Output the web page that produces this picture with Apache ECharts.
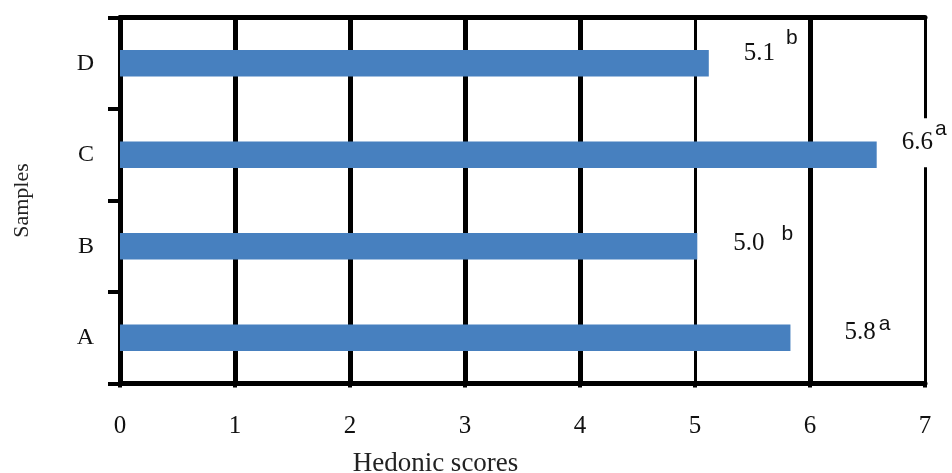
<!DOCTYPE html>
<html>
<head>
<meta charset="utf-8">
<script src="https://cdn.jsdelivr.net/npm/echarts@6/dist/echarts.min.js"></script>
<style>html,body{margin:0;padding:0;background:#fff}#c{width:952px;height:473px}</style>
</head>
<body>
<div id="c"></div>
<script>
// ---- data ----
const categories = ['A', 'B', 'C', 'D'];
const scores = [5.83, 5.02, 6.58, 5.12];
const scoreLabels = ['5.8', '5.0', '6.6', '5.1'];
const groupLetters = ['a', 'b', 'a', 'b'];
const xTicks = [0, 1, 2, 3, 4, 5, 6, 7];

// ---- label placement (styling only) ----
const labelDistance = [54, 36, 25, 35];
const labelDy = [-5, -3, -12, -10];
const supGap = [3, 17, 2, 11];
const supRaise = [9, 9.5, 14, 15.5];

const serif = '"Liberation Serif", "Times New Roman", serif';
const sans = '"Liberation Sans", Arial, sans-serif';

const chart = echarts.init(document.getElementById('c'), null, {renderer: 'canvas'});

const barData = scores.map((v, i) => ({
  value: v,
  label: {
    show: true,
    position: 'right',
    distance: labelDistance[i],
    offset: [0, labelDy[i]],
    formatter: '{n|' + scoreLabels[i] + '}{s|' + groupLetters[i] + '}',
    backgroundColor: '#fff',
    rich: {
      n: {fontFamily: serif, fontSize: 25, color: '#111'},
      s: {fontFamily: sans, fontSize: 21, color: '#111', padding: [0, 0, supRaise[i] * 2, supGap[i]]}
    }
  }
}));

const gridWidths = {1: 5, 2: 5, 3: 5, 4: 5, 5: 3, 6: 5, 7: 3};

chart.setOption({
  animation: false,
  grid: {left: 120, right: 27, top: 17.5, bottom: 89.5, containLabel: false, outerBoundsMode: 'none'},
  xAxis: [{
    type: 'value',
    min: xTicks[0],
    max: xTicks[xTicks.length - 1],
    interval: 1,
    position: 'bottom',
    axisLine: {show: true, onZero: false, lineStyle: {color: '#000', width: 5}},
    axisTick: {show: true, length: 4, lineStyle: {color: '#000', width: 4}},
    axisLabel: {fontFamily: serif, fontSize: 25, color: '#111', margin: 30},
    splitLine: {show: false},
    name: 'Hedonic scores',
    nameLocation: 'middle',
    nameGap: 67,
    nameTextStyle: {fontFamily: serif, fontSize: 27, color: '#222', padding: [0, 174, 0, 0]}
  }, {
    type: 'value',
    min: xTicks[0],
    max: xTicks[xTicks.length - 1],
    interval: 1,
    position: 'top',
    axisLine: {show: true, onZero: false, lineStyle: {color: '#000', width: 5}},
    axisTick: {show: false},
    axisLabel: {show: false},
    splitLine: {show: false}
  }],
  yAxis: {
    type: 'category',
    data: categories,
    axisLine: {show: true, lineStyle: {color: '#000', width: 5}},
    axisTick: {show: true, length: 12, lineStyle: {color: '#000', width: 4}},
    axisLabel: {fontFamily: serif, fontSize: 24, color: '#111', margin: 26},
    name: 'Samples',
    nameLocation: 'middle',
    nameGap: 87,
    nameTextStyle: {fontFamily: serif, fontSize: 22, color: '#222'}
  },
  series: [{
    type: 'bar',
    data: barData,
    barWidth: '29%',
    itemStyle: {color: '#4780bf'},
    z: 2,
    markLine: {
      z: 1,
      silent: true,
      symbol: 'none',
      label: {show: false},
      data: xTicks.filter(t => t > 0).map(t => ({
        xAxis: t,
        lineStyle: {color: '#000', width: gridWidths[t], type: 'solid'}
      }))
    }
  }]
});
</script>
</body>
</html>
